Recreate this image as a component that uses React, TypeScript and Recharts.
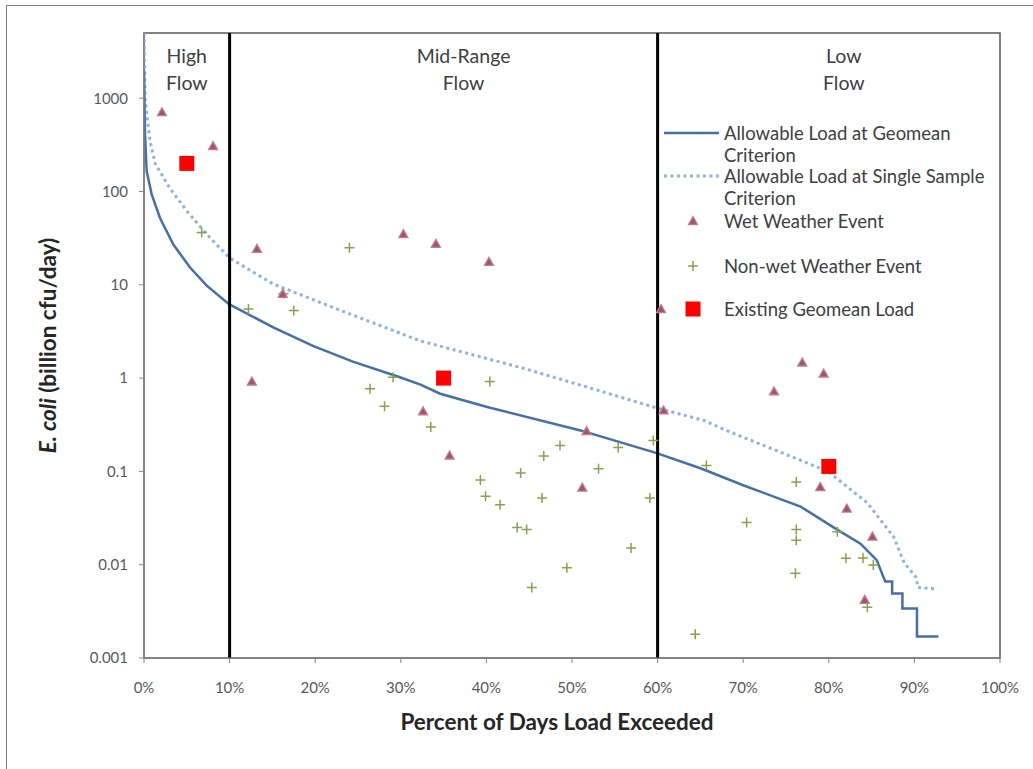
import React from 'react';
import {
  ComposedChart,
  Label,
  Legend,
  Line,
  ReferenceArea,
  ReferenceLine,
  Scatter,
  XAxis,
  YAxis,
} from 'recharts';

const FONT = 'Lato, "Open Sans", sans-serif';

// load duration curves: percent of days exceeded vs billion cfu/day
const geomeanPct = [0, 0.12, 0.31, 0.9, 1.87, 3.43, 5.38, 7.33, 9.94, 15.1, 19.8, 24.4, 29.9, 32.3, 34.6, 40.1, 51, 59.9, 65, 70, 76.7, 80.6, 83.7, 85.6, 86.4, 86.6, 87.4, 87.4, 88.6, 88.6, 90.3, 90.3, 92.8];
const geomeanLoad = [2000, 409, 166, 93, 52, 27, 15.3, 9.8, 6.2, 3.5, 2.2, 1.5, 1.02, 0.85, 0.68, 0.49, 0.275, 0.157, 0.108, 0.071, 0.042, 0.025, 0.0168, 0.0112, 0.0073, 0.0066, 0.0066, 0.0049, 0.0049, 0.0034, 0.0034, 0.0017, 0.0017];

const singlePct = [0, 0.12, 0.7, 1.3, 3, 5, 7.3, 10, 15, 23, 32.3, 33.8, 44, 52, 59.5, 65.5, 67.8, 74.7, 79.9, 84.5, 87.6, 88.8, 90.2, 90.4, 92.5];
const singleLoad = [5000, 1000, 350, 200, 109, 62, 35, 19.4, 10.3, 5.3, 2.5, 2.3, 1.3, 0.79, 0.49, 0.35, 0.28, 0.156, 0.1, 0.046, 0.0197, 0.0105, 0.0073, 0.0057, 0.0055];

// monitoring samples
const wetPct = [2.1, 8.07, 13.2, 12.6, 16.2, 30.3, 34.1, 40.3, 32.6, 35.7, 51.7, 51.2, 60.4, 60.7, 73.6, 76.9, 79.4, 79.0, 82.1, 85.1, 84.2];
const wetLoad = [708, 307, 24.3, 0.92, 8.0, 35, 27.5, 17.6, 0.44, 0.148, 0.27, 0.067, 5.5, 0.45, 0.72, 1.47, 1.12, 0.068, 0.04, 0.02, 0.0042];

const dryPct = [6.74, 12.2, 16.3, 17.5, 24.0, 26.4, 28.1, 29.1, 33.5, 40.4, 39.3, 39.9, 41.6, 44.0, 43.6, 44.7, 45.3, 46.7, 46.5, 48.6, 49.4, 53.1, 55.4, 56.9, 59.1, 59.5, 64.4, 65.7, 70.4, 76.2, 76.2, 76.2, 76.1, 81.0, 82.0, 84.0, 85.2, 84.5];
const dryLoad = [36.3, 5.5, 8.0, 5.3, 25, 0.77, 0.5, 1.02, 0.3, 0.92, 0.081, 0.054, 0.044, 0.096, 0.025, 0.0238, 0.0057, 0.146, 0.052, 0.19, 0.0093, 0.107, 0.18, 0.0151, 0.052, 0.215, 0.0018, 0.116, 0.0284, 0.077, 0.0238, 0.0183, 0.0081, 0.0225, 0.0117, 0.0118, 0.0099, 0.0035];

const existingPct = [5, 35, 80];
const existingLoad = [200, 1.0, 0.113];

const xTicks = [0, 10, 20, 30, 40, 50, 60, 70, 80, 90, 100];
const yTicks = [0.001, 0.01, 0.1, 1, 10, 100, 1000];
const zoneBounds = [0, 10, 60, 100];
const zoneNames = [['High', 'Flow'], ['Mid-Range', 'Flow'], ['Low', 'Flow']];
const legendLabels = [
  ['Allowable Load at Geomean', 'Criterion'],
  ['Allowable Load at Single Sample', 'Criterion'],
  ['Wet Weather Event'],
  ['Non-wet Weather Event'],
  ['Existing Geomean Load'],
];

const zip = (xs: number[], ys: number[]) => xs.map((x, i) => ({ x, y: ys[i] }));

const COLORS = {
  geomean: '#4470aa',
  single: '#8db3e2',
  wetFill: '#9c5569',
  wetStroke: '#c27c8e',
  dry: '#86a34c',
  existing: '#ff0000',
  text: '#404040',
  tick: '#595959',
};

function Triangle({ cx, cy }: { cx?: number; cy?: number }) {
  if (cx == null || cy == null) return null;
  return (
    <path
      d={`M${cx},${cy - 4.5}L${cx + 4.5},${cy + 3.5}L${cx - 4.5},${cy + 3.5}Z`}
      fill={COLORS.wetFill}
      stroke={COLORS.wetStroke}
      strokeWidth={1.3}
    />
  );
}

function Plus({ cx, cy }: { cx?: number; cy?: number }) {
  if (cx == null || cy == null) return null;
  return (
    <path
      d={`M${cx - 5},${cy}H${cx + 5}M${cx},${cy - 5}V${cy + 5}`}
      stroke={COLORS.dry}
      strokeWidth={1.5}
    />
  );
}

function Square({ cx, cy }: { cx?: number; cy?: number }) {
  if (cx == null || cy == null) return null;
  return <rect x={cx - 7.5} y={cy - 7.5} width={15} height={15} fill={COLORS.existing} />;
}

function ZoneLabel({ viewBox, lines, dx }: any) {
  if (!viewBox) return null;
  const cx = viewBox.x + viewBox.width / 2 + dx;
  return (
    <text x={cx} y={viewBox.y + 30} textAnchor="middle" fill={COLORS.text} fontSize={19.5} fontFamily={FONT}>
      {lines.map((l: string, i: number) => (
        <tspan key={l} x={cx} dy={i ? 27 : 0}>
          {l}
        </tspan>
      ))}
    </text>
  );
}

function YTitle({ viewBox }: any) {
  if (!viewBox) return null;
  const cx = 47;
  const cy = viewBox.y + viewBox.height / 2;
  return (
    <text
      x={cx}
      y={cy}
      transform={`rotate(-90 ${cx} ${cy})`}
      textAnchor="middle"
      dominantBaseline="central"
      fontSize={22.5}
      fontWeight={700}
      fontFamily={FONT}
      fill="#262626"
    >
      <tspan fontStyle="italic">E. coli</tspan> (billion cfu/day)
    </text>
  );
}

function LegendBox() {
  const rows = [15, 58, 103, 148, 191];
  return (
    <svg width={345} height={205} style={{ display: 'block' }}>
      <line x1={4} x2={59} y1={rows[0]} y2={rows[0]} stroke={COLORS.geomean} strokeWidth={2.5} />
      <line x1={4} x2={59} y1={rows[1]} y2={rows[1]} stroke={COLORS.single} strokeWidth={3} strokeDasharray="3 3.5" />
      <Triangle cx={33} cy={rows[2]} />
      <Plus cx={33} cy={rows[3]} />
      <Square cx={33} cy={rows[4]} />
      {legendLabels.map((lines, i) => (
        <text key={i} x={64} y={rows[i]} fontSize={18.5} fontFamily={FONT} fill={COLORS.text} dominantBaseline="central">
          {lines.map((l, j) => (
            <tspan key={j} x={64} dy={j ? 21.5 : 0}>
              {l}
            </tspan>
          ))}
        </text>
      ))}
    </svg>
  );
}

export default function App() {
  return (
    <div style={{ position: 'absolute', left: 0, top: 0, width: 1033, height: 769, overflow: 'hidden', background: '#fff' }}>
      <div
        style={{
          position: 'absolute',
          left: 6,
          top: 5,
          width: 1100,
          height: 900,
          border: '1.5px solid #7f7f7f',
        }}
      />
      <div style={{ position: 'absolute', left: 0, top: 0 }}>
        <ComposedChart width={1033} height={769} margin={{ top: 33, right: 33, bottom: 51, left: 0 }}>
          <XAxis
            type="number"
            dataKey="x"
            domain={[0, 100]}
            ticks={xTicks}
            tickFormatter={(v) => `${v}%`}
            allowDataOverflow
            height={60}
            tickSize={5}
            tickMargin={19}
            stroke="#868686"
            tick={{ fill: COLORS.tick, fontSize: 15, fontFamily: FONT }}
          >
            <Label
              value="Percent of Days Load Exceeded"
              position="bottom"
              offset={-4}
              dx={-15}
              style={{ fontSize: 22.5, fontWeight: 700, fontFamily: FONT, fill: '#262626' }}
            />
          </XAxis>
          <YAxis
            type="number"
            dataKey="y"
            scale="log"
            domain={[0.001, 5000]}
            ticks={yTicks}
            tickFormatter={(v) => String(v)}
            allowDataOverflow
            width={144}
            tickSize={5}
            tickMargin={11}
            stroke="#868686"
            tick={{ fill: COLORS.tick, fontSize: 15, fontFamily: FONT }}
          >
            <Label content={<YTitle />} />
          </YAxis>
          {zoneNames.map((lines, i) => (
            <ReferenceArea
              key={lines[0]}
              x1={zoneBounds[i]}
              x2={zoneBounds[i + 1]}
              fill="none"
              fillOpacity={0}
              label={<ZoneLabel lines={lines} dx={[0, 20, 15][i]} />}
            />
          ))}
          <ReferenceArea x1={0} x2={100} y1={0.001} y2={5000} fill="none" stroke="#595959" strokeWidth={1.5} />
          <Line
            data={zip(singlePct, singleLoad)}
            dataKey="y"
            type="linear"
            stroke={COLORS.single}
            strokeWidth={3}
            strokeDasharray="3 3.5"
            dot={false}
            activeDot={false}
            isAnimationActive={false}
          />
          <Line
            data={zip(geomeanPct, geomeanLoad)}
            dataKey="y"
            type="linear"
            stroke={COLORS.geomean}
            strokeWidth={2.5}
            dot={false}
            activeDot={false}
            isAnimationActive={false}
          />
          {zoneBounds.slice(1, 3).map((x) => (
            <ReferenceLine key={x} x={x} stroke="#000" strokeWidth={3} />
          ))}
          <Scatter data={zip(dryPct, dryLoad)} dataKey="y" shape={<Plus />} isAnimationActive={false} />
          <Scatter data={zip(wetPct, wetLoad)} dataKey="y" shape={<Triangle />} isAnimationActive={false} />
          <Scatter data={zip(existingPct, existingLoad)} dataKey="y" shape={<Square />} isAnimationActive={false} />
          <Legend
            layout="vertical"
            align="center"
            verticalAlign="middle"
            content={<LegendBox />}
            wrapperStyle={{ left: 660, top: 118, width: 345 }}
          />
        </ComposedChart>
      </div>
    </div>
  );
}
